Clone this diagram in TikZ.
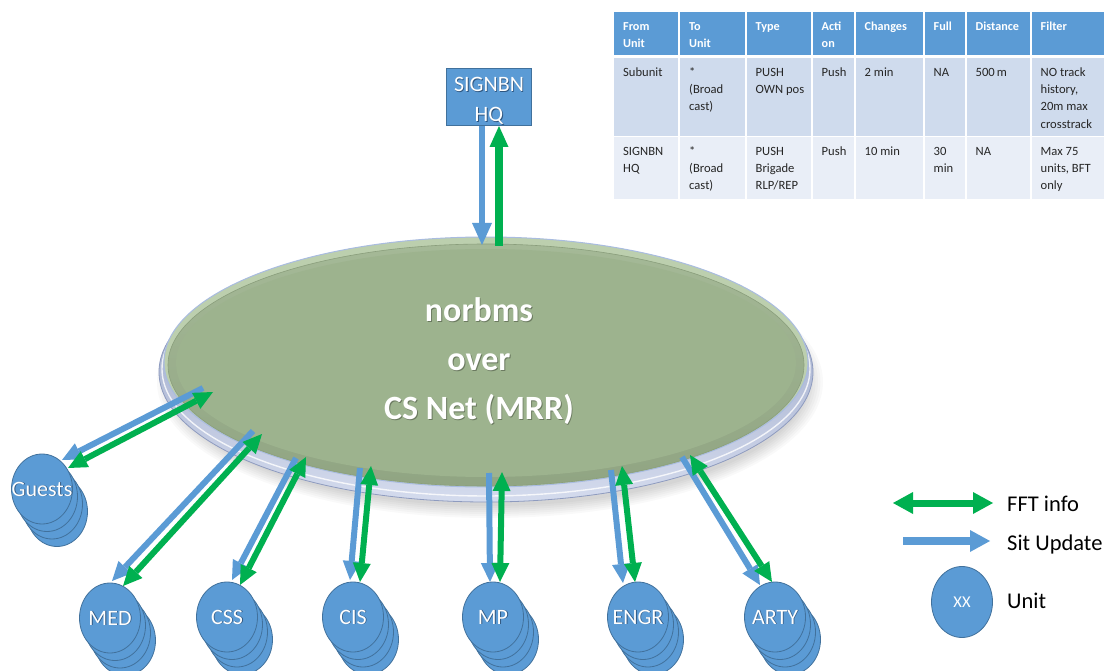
\documentclass[tikz,border=0pt]{standalone}
\usepackage{fontspec}
\setmainfont{Carlito}
\usetikzlibrary{arrows.meta,shapes.geometric,calc}

\definecolor{unitblue}{HTML}{5B9BD5}
\definecolor{unitedge}{HTML}{41719C}
\definecolor{labelshade}{HTML}{2E5680}
\definecolor{fftgreen}{HTML}{00B050}
\definecolor{hdrblue}{HTML}{5B9BD5}
\definecolor{rowa}{HTML}{CFDBED}
\definecolor{rowb}{HTML}{E9EEF7}
\definecolor{netgreen}{HTML}{9DB38E}
\definecolor{netband}{HTML}{BCCFAE}
\definecolor{netline}{HTML}{8A9E7C}
\definecolor{netshade}{HTML}{6B7A60}
\definecolor{netrimline}{HTML}{A9BCE0}
\definecolor{rimblue}{HTML}{C2CCE6}
\definecolor{rimedge}{HTML}{8E9BBF}
\definecolor{bodytext}{HTML}{262626}

% white lettering with a small offset shadow behind it
\newcommand\shadowtext[2]{\leavevmode\rlap{\kern0.9pt\raisebox{-0.9pt}{\textcolor{#1}{#2}}}#2}

\tikzset{
  unitdisc/.style={ellipse, minimum width=61pt, minimum height=70pt, inner sep=0pt,
    fill=unitblue, draw=unitedge, line width=0.8pt},
  unitback/.style={fill=unitblue, draw=unitedge, line width=0.8pt},
  unitlabel/.style={inner sep=0pt, text=white, text height=14pt, text depth=0pt,
    font=\fontsize{22}{26}\selectfont},
  hcell/.style={anchor=north west, inner sep=0pt, align=left, text=white,
    font=\bfseries\fontsize{12.2}{16.8}\selectfont},
  bcell/.style={anchor=north west, inner sep=0pt, align=left, text=bodytext,
    font=\fontsize{12.6}{17.3}\selectfont},
  sitarrow/.style={draw=unitblue, line width=6pt,
    -{Triangle[length=19pt,width=18pt,line width=0pt]}},
  fftarrow/.style={draw=fftgreen, line width=6pt,
    {Triangle[length=19pt,width=18pt,line width=0pt]}-{Triangle[length=19pt,width=18pt,line width=0pt]}},
  legendtext/.style={anchor=base west, inner sep=0pt, text=black,
    font=\fontsize{22.5}{27}\selectfont},
}

% a unit drawn as a stack of four discs with its name on the front one
\newcommand\unitstack[3]{%
  \foreach \k in {3,2,1}{
    \filldraw[unitback] ($(#2)+(5*\k,7.5*\k)$) ellipse (30.5pt and 35pt);
  }
  \node[unitdisc] (#1) at (#2) {};
  \node[unitlabel] (#1-name) at (#2) {\shadowtext{labelshade}{#3}};
}

% the pair of links between the net and a unit
\newcommand\unitlinks[5]{%
  \coordinate (#1-bs) at (#2);
  \coordinate (#1-bt) at (#3);
  \coordinate (#1-gu) at (#4);
  \coordinate (#1-gn) at (#5);
  \draw[sitarrow] (#1-bs) -- (#1-bt);
  \draw[fftarrow] (#1-gu) -- (#1-gn);
}

\begin{document}
\begin{tikzpicture}[x=1pt,y=-1pt]
\clip (0,0) rectangle (1104,671);
\fill[white] (0,0) rectangle (1104,671);

% ---------- message table ----------
\foreach \a/\b in {613/679,679/746,746/812,812/855,855/924,924/966,966/1031,1031/1110}{
  \fill[hdrblue] (\a+1,12.5) rectangle (\b-1,55.5);
  \fill[rowa] (\a+1,58.5) rectangle (\b-1,135.7);
  \fill[rowb] (\a+1,137.3) rectangle (\b-1,199);
}
\node[hcell] (h1) at (623,18.9) {\strut From\\Unit};
\node[hcell] (h2) at (689,18.9) {\strut To\\Unit};
\node[hcell] (h3) at (755.5,18.9) {\strut Type};
\node[hcell] (h4) at (821.5,18.9) {\strut Acti\\on};
\node[hcell] (h5) at (864.5,18.9) {\strut Changes};
\node[hcell] (h6) at (933.5,18.9) {\strut Full};
\node[hcell] (h7) at (975.5,18.9) {\strut Distance};
\node[hcell] (h8) at (1040.5,18.9) {\strut Filter};

\node[bcell] (a1) at (623,63.9) {\strut Subunit};
\node[bcell] (a2) at (689,63.9) {\strut *\\(Broad\\cast)};
\node[bcell] (a3) at (755.5,63.9) {\strut PUSH\\OWN pos};
\node[bcell] (a4) at (821.5,63.9) {\strut Push};
\node[bcell] (a5) at (864.5,63.9) {\strut 2 min};
\node[bcell] (a6) at (933.5,63.9) {\strut NA};
\node[bcell] (a7) at (975.5,63.9) {\strut 500\,m};
\node[bcell] (a8) at (1040.5,63.9) {\strut NO track\\history,\\20m max\\crosstrack};

\node[bcell] (b1) at (623,142.9) {\strut SIGNBN\\HQ};
\node[bcell] (b2) at (689,142.9) {\strut *\\(Broad\\cast)};
\node[bcell] (b3) at (755.5,142.9) {\strut PUSH\\Brigade\\RLP/REP};
\node[bcell] (b4) at (821.5,142.9) {\strut Push};
\node[bcell] (b5) at (864.5,142.9) {\strut 10 min};
\node[bcell] (b6) at (933.5,142.9) {\strut 30\\min};
\node[bcell] (b7) at (975.5,142.9) {\strut NA};
\node[bcell] (b8) at (1040.5,142.9) {\strut Max 75\\units, BFT\\only};

% ---------- the net disc ----------
\foreach \i in {0,...,6}{
  \fill[black, opacity=0.022] (490,382) ellipse ({318pt+2.5pt*\i} and {124pt+2pt*\i});
}
\shade[top color=rimedge, bottom color=rimblue!70!white, draw=rimedge, line width=0.8pt]
  (486,372) ellipse (327pt and 130pt);
\draw[white, line width=1.4pt, opacity=0.8] (486,369) ellipse (324pt and 127pt);
\node[ellipse, minimum width=644pt, minimum height=250pt, inner sep=0pt,
      fill=netband, draw=netrimline, line width=1pt] (net) at (486,362) {};
\shade[top color=netgreen!92!white, bottom color=netgreen!92!black]
  (486,365) ellipse (318pt and 121pt);
\fill[netgreen] (486,363) ellipse (310pt and 114pt);
\draw[netline, line width=0.6pt] (486,365) ellipse (318pt and 121pt);

\node[inner sep=0pt, align=center, text=white,
      font=\bfseries\fontsize{34}{49}\selectfont] (netlabel) at (479,361)
  {\strut\shadowtext{netshade}{norbms}\\\strut\shadowtext{netshade}{over}\\\strut\shadowtext{netshade}{CS Net (MRR)}};

% ---------- signal battalion HQ ----------
\node[draw=unitedge, fill=unitblue, line width=0.8pt, minimum width=85pt,
      minimum height=57pt, inner sep=0pt] (hq) at (489,97) {};
\node[inner sep=0pt, align=center, text=white,
      font=\fontsize{22}{30}\selectfont] (hqlabel) at (489,101)
  {\strut\shadowtext{labelshade}{SIGNBN}\\\strut\shadowtext{labelshade}{HQ}};

\coordinate (hq-bs) at (482,126.5);
\coordinate (hq-bt) at (482,245);
\coordinate (hq-gs) at (499,246);
\coordinate (hq-gt) at (499,126);
\draw[draw=unitblue, line width=6pt, -{Triangle[length=22pt,width=20pt,line width=0pt]}] (hq-bs) -- (hq-bt);
\draw[draw=fftgreen, line width=8pt, -{Triangle[length=21pt,width=19pt,line width=0pt]}] (hq-gs) -- (hq-gt);

% ---------- units ----------
\unitstack{guests}{42,489}{Guests}
\unitstack{med}{110,618}{MED}
\unitstack{css}{227,617}{CSS}
\unitstack{cis}{353,617}{CIS}
\unitstack{mp}{493,617}{MP}
\unitstack{engr}{638,617}{ENGR}
\unitstack{arty}{775,617}{ARTY}

\unitlinks{guests}{203,388}{62,460}{68,468}{213,392}
\unitlinks{med}{253,431}{112,581}{123,586}{262,434}
\unitlinks{css}{296,458}{232,580}{240,585}{306,457}
\unitlinks{cis}{360,468}{350,580}{360,582}{371,466}
\unitlinks{mp}{489,473}{490,582}{500,582}{502,472}
\unitlinks{engr}{611,470}{623,583}{635,582}{622,466}
\unitlinks{arty}{682,457}{760,585}{772,582}{690,455}

% ---------- legend ----------
\coordinate (fft-l) at (893,503);
\coordinate (fft-r) at (993,503);
\draw[draw=fftgreen, line width=7pt,
  {Triangle[length=20pt,width=22pt,line width=0pt]}-{Triangle[length=20pt,width=22pt,line width=0pt]}] (fft-l) -- (fft-r);
\node[legendtext] (fftlab) at (1007,511.5) {FFT info};

\coordinate (sit-l) at (903,541);
\coordinate (sit-r) at (990,541);
\draw[draw=unitblue, line width=8pt, -{Triangle[length=20pt,width=22pt,line width=0pt]}] (sit-l) -- (sit-r);
\node[legendtext] (sitlab) at (1007,550) {Sit Update};

\node[unitdisc, minimum height=71pt] (legunit) at (962,602) {};
\node[inner sep=0pt, text=white, font=\fontsize{16.5}{20}\selectfont] (legxx) at (962,602) {XX};
\node[legendtext] (unitlab) at (1007,608) {Unit};
\end{tikzpicture}
\end{document}
